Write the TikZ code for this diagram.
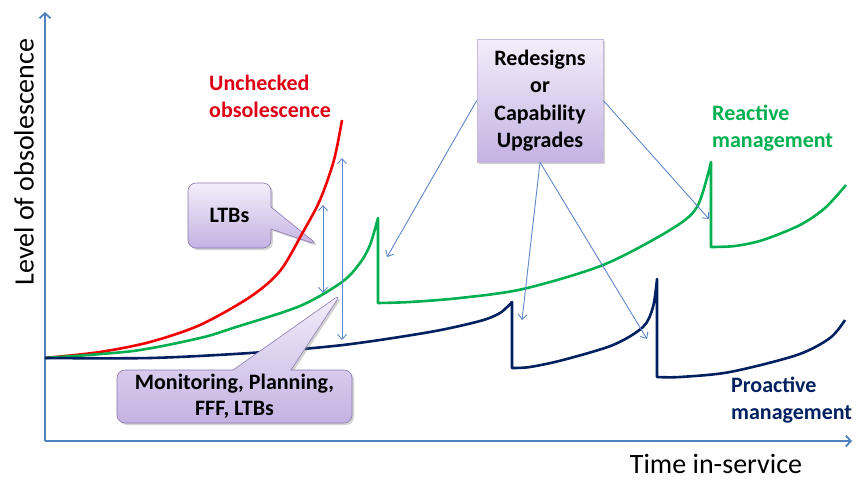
\documentclass[tikz,border=0pt]{standalone}
\usepackage{fontspec}
\setmainfont{Carlito}
\usepackage{tikz}
\usetikzlibrary{arrows.meta,positioning,shapes.callouts,shadows}
\definecolor{axisblue}{RGB}{79,129,189}
\definecolor{linkblue}{RGB}{95,135,200}
\definecolor{redline}{RGB}{240,0,0}
\definecolor{redtext}{RGB}{222,0,20}
\definecolor{greenline}{RGB}{0,176,80}
\definecolor{navyline}{RGB}{0,32,96}
\definecolor{boxtop}{RGB}{243,238,250}
\definecolor{boxbottom}{RGB}{196,178,226}
\definecolor{boxline}{RGB}{140,120,175}

\begin{document}
\begin{tikzpicture}[x=1pt,y=-1pt,
    axis/.style={draw=axisblue,line width=1.8pt,-{Straight Barb[length=5pt,width=11pt]}},
    link/.style={draw=linkblue,line width=0.9pt,-{Straight Barb[length=5pt,width=9pt]}},
    twoway/.style={link,{Straight Barb[length=5pt,width=9pt]}-{Straight Barb[length=5pt,width=9pt]}},
    curve/.style={line width=2.6pt,line join=round},
    tag/.style={font=\bfseries\fontsize{22}{27}\selectfont,align=left,inner sep=0pt,anchor=west},
    axislabel/.style={font=\fontsize{28}{34}\selectfont,inner sep=0pt},
    box/.style={top color=boxtop,bottom color=boxbottom,draw=boxline,line width=0.6pt,
      font=\bfseries\fontsize{22}{27.5}\selectfont,align=center,inner sep=0pt,
      drop shadow={shadow xshift=2pt,shadow yshift=-2pt,opacity=0.35}},
    bubble/.style={box,rectangle callout,rounded corners=8pt}]
  \useasboundingbox (0,0) rectangle (858,479);

  \coordinate (origin) at (45,441);
  \coordinate (ytop) at (45,12);
  \coordinate (xend) at (852,441);
  \draw[axis] (origin) -- (ytop);
  \draw[axis] (origin) -- (xend);
  \node[axislabel,rotate=90] (ylabel) at (24,162) {Level of obsolescence};
  \node[axislabel] (xlabel) at (716,464) {Time in-service};

  \node[bubble,minimum width=83pt,minimum height=65pt,callout pointer width=22pt,
    callout absolute pointer={(318,245)}] (ltbs) at (229.5,215.5) {LTBs};

  \draw[curve,redline] plot[smooth] coordinates {(45,358) (100,352) (150,342) (200,325)
    (250,297) (280,271) (303,232) (320,200) (334,160) (342,120)};
  \draw[curve,greenline] plot[smooth] coordinates {(45,358) (133,351) (200,338) (233,328)
    (300,306) (342,282) (360,263) (370,245) (378,218)}
    -- plot[smooth] coordinates {(378,303) (410,302) (460,298) (523,289) (603,265)
    (670,230) (697,207) (711,162)}
    -- plot[smooth] coordinates {(711,247) (735,246) (763,240) (800,225) (825,208) (846,185)};
  \draw[curve,navyline] plot[smooth] coordinates {(45,358) (150,358) (250,353) (343,345)
    (430,332) (480,321) (500,313) (512,302)}
    -- plot[smooth] coordinates {(512,368) (530,367) (563,360) (613,345) (643,327)
    (653,307) (657,279)}
    -- plot[smooth] coordinates {(657,377) (680,377) (730,372) (797,355) (830,338) (845,320)};

  \node[bubble,minimum width=235pt,minimum height=53pt,font=\bfseries\fontsize{22}{26}\selectfont,
    callout pointer width=58pt,callout absolute pointer={(341,294)}] (monitor) at (234.5,396.5)
    {Monitoring, Planning,\\FFF, LTBs};

  \node[box,draw=boxline!50,minimum width=126pt,minimum height=123pt] (redesign) at (540,100.5)
    {Redesigns\\or\\Capability\\Upgrades};

  \node[tag,text=redtext] (unchecked) at (209,96) {Unchecked\\obsolescence};
  \node[tag,text=greenline] (reactive) at (712,128) {Reactive\\management};
  \node[tag,text=navyline] (proactive) at (731,400) {Proactive\\management};

  \coordinate (tipA) at (387,257);
  \coordinate (tipB) at (522,320);
  \coordinate (tipC) at (647,339);
  \coordinate (tipD) at (709,219);
  \draw[link] (redesign.west) -- (tipA);
  \draw[link] (redesign.south) -- (tipB);
  \draw[link] (redesign.south) -- (tipC);
  \draw[link] (redesign.east) -- (tipD);

  \coordinate (ltbtopA) at (323,205);
  \coordinate (ltbbotA) at (323,293);
  \coordinate (ltbtopB) at (342,158);
  \coordinate (ltbbotB) at (342,340);
  \draw[twoway] (ltbbotA) -- (ltbtopA);
  \draw[twoway] (ltbbotB) -- (ltbtopB);
\end{tikzpicture}
\end{document}
